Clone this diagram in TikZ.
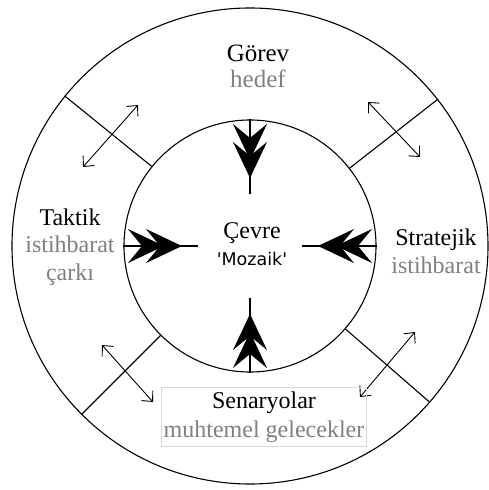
\documentclass[tikz,border=0pt]{standalone}
\usepackage{fontspec}
\setmainfont{Liberation Serif}
\newfontfamily\mozfont{DejaVu Sans}
\usetikzlibrary{arrows.meta}
\definecolor{subgray}{HTML}{808080}
\definecolor{framegray}{HTML}{D9D9D9}
\begin{document}
\begin{tikzpicture}[x=1pt, y=1pt, line width=1.1pt,
  ring/.style={draw, circle, inner sep=0pt},
  lbl/.style={font=\fontsize{24}{27.5}\selectfont, align=center, anchor=base, inner sep=0pt},
  twoway/.style={{Straight Barb[length=8pt,width=15pt]}-{Straight Barb[length=8pt,width=15pt]}, line width=0.9pt},
  chev/.pic={\fill (0,0) -- (-36,17) -- (-22,0) -- (-36,-17) -- cycle;}]
\useasboundingbox (-250,-244) rectangle (239,246);
\node[ring, minimum size=476pt] (outer) at (0,0) {};
\node[ring, minimum size=252pt] (inner) at (0,0) {};
\foreach \a in {38,141,225,319} \draw (inner.\a) -- (outer.\a);
\foreach \a in {0,90,180,270} {
  \coordinate (e\a) at (\a:52);
  \draw (inner.\a) -- (e\a);
  \pic[rotate=\a+180] at (\a:68) {chev};
  \pic[rotate=\a+180] at (\a:86) {chev};
}
\foreach \n/\x/\y/\u/\v in {ul/-167/79/-112/141, ur/118/144/170/89, ll/-148/-99/-97/-156, lr/165/-86/110/-151} {
  \coordinate (\n1) at (\x,\y);
  \coordinate (\n2) at (\u,\v);
  \draw[twoway] (\n1) -- (\n2);
}
\node[lbl, font=\fontsize{25}{26.5}\selectfont] (gorev) at (8,158) {Görev\\\textcolor{subgray}{hedef}};
\node[lbl] (taktik) at (-180,-34) {Taktik\\\textcolor{subgray}{istihbarat}\\\textcolor{subgray}{çarkı}};
\node[lbl] (stratejik) at (186,-27) {Stratejik\\\textcolor{subgray}{istihbarat}};
\node[lbl, font=\fontsize{24}{29}\selectfont, draw=framegray, line width=0.6pt, inner xsep=2pt, inner ysep=4pt] (senaryo) at (14,-191) {Senaryolar\\\textcolor{subgray}{muhtemel gelecekler}};
\node[lbl, font=\fontsize{24}{27}\selectfont] (cevre) at (2,-19) {Çevre\\{\mozfont\fontsize{17.5}{20}\selectfont\textquotesingle Mozaik\textquotesingle}};
\end{tikzpicture}
\end{document}
